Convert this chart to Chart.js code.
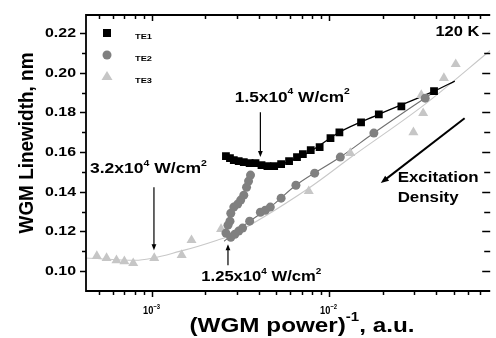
<!DOCTYPE html>
<html>
<head>
<meta charset="utf-8">
<script src="https://cdn.jsdelivr.net/npm/chart.js@4.4.0/dist/chart.umd.min.js"></script>
<style>
  html, body { margin: 0; padding: 0; background: #fff; }
  #kutu { width: 496px; height: 338px; }
</style>
</head>
<body>
<div id="kutu"><canvas id="grafik" width="496" height="338"></canvas></div>
<script>
// TE1 - kareler
const te1X = [2.61e-3, 2.75e-3, 2.89e-3, 3.08e-3, 3.29e-3, 3.55e-3, 3.83e-3, 4.14e-3, 4.47e-3, 4.88e-3, 5.34e-3,
  5.92e-3, 6.56e-3, 7.08e-3, 7.84e-3, 8.8e-3, 1.013e-2, 1.137e-2, 1.506e-2, 1.896e-2, 2.54e-2, 3.88e-2];
const te1Y = [0.158, 0.157, 0.156, 0.1554, 0.155, 0.1544, 0.1544, 0.1534, 0.1529, 0.1529, 0.1539,
  0.1554, 0.1575, 0.159, 0.161, 0.1625, 0.167, 0.170, 0.175, 0.179, 0.183, 0.1907];

// TE2 - daireler (dik kol + ana kol)
const te2X = [2.61e-3, 2.68e-3, 2.75e-3, 2.78e-3, 2.89e-3, 3.04e-3, 3.16e-3, 3.29e-3, 3.41e-3, 3.50e-3, 3.59e-3,
  2.78e-3, 2.93e-3, 3.08e-3, 3.24e-3, 3.55e-3, 4.08e-3, 4.35e-3, 4.64e-3, 5.34e-3, 6.47e-3, 8.25e-3,
  1.151e-2, 1.778e-2, 3.46e-2];
const te2Y = [0.1192, 0.1232, 0.1252, 0.1292, 0.1323, 0.1338, 0.1358, 0.1383, 0.1423, 0.1454, 0.1484,
  0.1171, 0.1186, 0.1202, 0.1217, 0.1252, 0.1297, 0.1307, 0.1323, 0.1368, 0.1433, 0.1494,
  0.1575, 0.1696, 0.1872];

// TE3 - üçgenler
const te3X = [4.89e-4, 5.55e-4, 6.31e-4, 6.99e-4, 7.84e-4, 1.03e-3, 1.47e-3, 1.67e-3, 2.45e-3, 7.64e-3,
  1.309e-2, 2.97e-2, 3.37e-2, 3.29e-2, 4.41e-2, 5.14e-2];
const te3Y = [0.1076, 0.1066, 0.1055, 0.105, 0.104, 0.1066, 0.1081, 0.1156, 0.1212, 0.1403,
  0.1595, 0.170, 0.1796, 0.1887, 0.1973, 0.2043];

// Uydurma eğriler (resimden okunan noktalar)
const te1FitX = [2.61e-3, 3.29e-3, 4.14e-3, 4.88e-3, 5.92e-3, 7.84e-3, 1.137e-2, 1.896e-2, 3.88e-2, 5.08e-2];
const te1FitY = [0.1575, 0.155, 0.1534, 0.1529, 0.1554, 0.1605, 0.170, 0.179, 0.1907, 0.1958];
const te2FitX = [2.55e-3, 3.55e-3, 4.64e-3, 6.47e-3, 1.151e-2, 1.778e-2, 3.93e-2];
const te2FitY = [0.1151, 0.1252, 0.1323, 0.1433, 0.1575, 0.1696, 0.1907];
const te3FitX = [4.25e-4, 8.04e-4, 1.52e-3, 2.33e-3, 2.78e-3, 7.64e-3, 1.326e-2, 3.46e-2, 8.04e-2];
const te3FitY = [0.1066, 0.1055, 0.1106, 0.1156, 0.1181, 0.1418, 0.1575, 0.1842, 0.2112];

const seriAdlari = ["TE1", "TE2", "TE3"];
const yEtiketAdimi = 0.02;

function noktalar(xs, ys) {
  return xs.map((x, i) => ({ x: x, y: ys[i] }));
}

const FONT = '"Liberation Sans", Arial, sans-serif';

// parcalar: [metin, ustSimge]
function yaziCiz(ctx, parcalar, x, y, boyut, genislik, hiza) {
  ctx.save();
  const ustBoyut = Math.round(boyut * 0.6);
  let toplam = 0;
  const olculer = parcalar.map(([m, ust]) => {
    ctx.font = `bold ${ust ? ustBoyut : boyut}px ${FONT}`;
    const w = ctx.measureText(m).width;
    toplam += w;
    return w;
  });
  const sx = genislik ? genislik / toplam : 1;
  let basX = hiza === "center" ? -toplam / 2 : hiza === "right" ? -toplam : 0;
  ctx.translate(x, y);
  ctx.scale(sx, 1);
  ctx.textBaseline = "middle";
  ctx.textAlign = "left";
  ctx.fillStyle = "#000";
  parcalar.forEach(([m, ust], i) => {
    ctx.font = `bold ${ust ? ustBoyut : boyut}px ${FONT}`;
    ctx.fillText(m, basX, ust ? -boyut * 0.4 : 0);
    basX += olculer[i];
  });
  ctx.restore();
}

function okCiz(ctx, x1, y1, x2, y2, kalinlik, uc) {
  const a = Math.atan2(y2 - y1, x2 - x1);
  const c = Math.cos(a), s = Math.sin(a);
  ctx.save();
  ctx.strokeStyle = "#000";
  ctx.fillStyle = "#000";
  ctx.lineWidth = kalinlik;
  ctx.beginPath();
  ctx.moveTo(x1, y1);
  ctx.lineTo(x2 - c * uc * 0.8, y2 - s * uc * 0.8);
  ctx.stroke();
  ctx.beginPath();
  ctx.moveTo(x2, y2);
  ctx.lineTo(x2 - uc * c + uc * 0.4 * s, y2 - uc * s - uc * 0.4 * c);
  ctx.lineTo(x2 - uc * c - uc * 0.4 * s, y2 - uc * s + uc * 0.4 * c);
  ctx.closePath();
  ctx.fill();
  ctx.restore();
}

function cizgi(ctx, x1, y1, x2, y2) {
  ctx.beginPath();
  ctx.moveTo(x1, y1);
  ctx.lineTo(x2, y2);
  ctx.stroke();
}

const cerceve = {
  id: "cerceve",
  afterDraw(chart) {
    const ctx = chart.ctx;
    const { left, right, top, bottom } = chart.chartArea;
    const xs = chart.scales.x, ys = chart.scales.y;

    ctx.save();
    ctx.strokeStyle = "#000";
    ctx.fillStyle = "#000";

    // Çerçeve
    ctx.lineWidth = 1.8;
    ctx.beginPath();
    ctx.moveTo(right, top);
    ctx.lineTo(left, top);
    ctx.lineTo(left, bottom);
    ctx.lineTo(right, bottom);
    ctx.stroke();

    // X çentikleri
    const xEtiketler = [];
    xs.ticks.forEach((t) => {
      const v = t.value;
      const us = Math.floor(Math.log10(v) + 1e-9);
      const an = v / Math.pow(10, us);
      if (Math.abs(an - Math.round(an)) > 1e-6) return;
      const px = Math.round(xs.getPixelForValue(v)) + 0.5;
      if (px <= left + 1 || px >= right) return;
      const buyuk = Math.round(an) === 1;
      const l = buyuk ? 6 : 4;
      ctx.strokeStyle = "#000";
      ctx.lineWidth = 1.5;
      cizgi(ctx, px, bottom, px, bottom + l);
      cizgi(ctx, px, top, px, top + l);
      if (buyuk) xEtiketler.push([px, us]);
    });

    // Y çentikleri
    const yEtiketler = [];
    ys.ticks.forEach((t) => {
      const v = t.value;
      const k = v / 0.01;
      if (Math.abs(k - Math.round(k)) > 1e-6) return;
      const py = Math.round(ys.getPixelForValue(v)) + 0.5;
      if (py <= top + 1 || py >= bottom - 1) return;
      const e = v / yEtiketAdimi;
      const buyuk = Math.abs(e - Math.round(e)) < 1e-6;
      const l = buyuk ? 6 : 4;
      ctx.strokeStyle = "#000";
      ctx.lineWidth = 1.5;
      cizgi(ctx, left, py, left - l, py);
      cizgi(ctx, right, py, right - l - 2, py);
      if (buyuk) yEtiketler.push([py, v]);
    });

    xEtiketler.forEach(([px, us]) => {
      yaziCiz(ctx, [["10", false], [String(us).replace("-", "\u2212"), true]], px - 1, bottom + 20, 11, 17, "center");
    });
    yEtiketler.forEach(([py, v]) => {
      yaziCiz(ctx, [[v.toFixed(2), false]], left - 10, py, 12, 31, "right");
    });

    // Eksen başlıkları
    ctx.save();
    ctx.translate(27, 143);
    ctx.rotate(-Math.PI / 2);
    yaziCiz(ctx, [["WGM Linewidth, nm", false]], 0, 0, 20, 181, "center");
    ctx.restore();
    yaziCiz(ctx, [["(WGM power)", false], ["-1", true], [", a.u.", false]], 302, 326, 21, 225, "center");

    // Gösterge
    const lx = left + 21;
    ctx.fillStyle = "#000";
    ctx.fillRect(lx - 4, top + 14, 8, 8);
    ctx.fillStyle = "#808080";
    ctx.beginPath();
    ctx.arc(lx, top + 40, 4.5, 0, Math.PI * 2);
    ctx.fill();
    ctx.fillStyle = "#c6c6c6";
    ctx.beginPath();
    ctx.moveTo(lx, top + 56);
    ctx.lineTo(lx + 5.5, top + 65);
    ctx.lineTo(lx - 5.5, top + 65);
    ctx.closePath();
    ctx.fill();
    seriAdlari.forEach((ad, i) => {
      yaziCiz(ctx, [[ad, false]], left + 49, top + 22 + i * 22, 8, 17, "left");
    });

    // Açıklamalar
    const X = (v) => xs.getPixelForValue(v);
    const Y = (v) => ys.getPixelForValue(v);
    yaziCiz(ctx, [["1.5x10", false], ["4", true], [" W/cm", false], ["2", true]], X(2.93e-3), Y(0.1875), 15, 115, "left");
    okCiz(ctx, X(4.08e-3), Y(0.1801), X(4.08e-3), Y(0.1575), 1.2, 6);
    yaziCiz(ctx, [["3.2x10", false], ["4", true], [" W/cm", false], ["2", true]], X(4.47e-4), Y(0.1514), 15, 117, "left");
    okCiz(ctx, X(1.026e-3), Y(0.1423), X(1.026e-3), Y(0.1106), 1.2, 6);
    yaziCiz(ctx, [["1.25x10", false], ["4", true], [" W/cm", false], ["2", true]], X(1.896e-3), Y(0.097), 15, 120, "left");
    okCiz(ctx, X(2.68e-3), Y(0.103), X(2.68e-3), Y(0.1136), 1.2, 6);
    okCiz(ctx, X(5.77e-2), Y(0.1771), X(1.945e-2), Y(0.1444), 2, 8);
    yaziCiz(ctx, [["Excitation", false]], X(2.42e-2), Y(0.1469), 15, 81, "left");
    yaziCiz(ctx, [["Density", false]], X(2.42e-2), Y(0.1368), 15, 61, "left");
    yaziCiz(ctx, [["120 K", false]], X(6.99e-2), Y(0.2205), 15, 44, "right");
    ctx.restore();
  },
};

const ctx = document.getElementById("grafik").getContext("2d");

new Chart(ctx, {
  type: "scatter",
  data: {
    datasets: [
      {
        label: "TE1",
        data: noktalar(te1X, te1Y),
        pointStyle: "rect",
        pointRadius: 5.5,
        backgroundColor: "#000",
        borderColor: "#000",
        borderWidth: 0,
      },
      {
        label: "TE2",
        data: noktalar(te2X, te2Y),
        pointStyle: "circle",
        pointRadius: 4.5,
        backgroundColor: "#808080",
        borderColor: "#808080",
        borderWidth: 0,
      },
      {
        label: "TE3",
        data: noktalar(te3X, te3Y),
        pointStyle: "triangle",
        pointRadius: 5.8,
        backgroundColor: "#c6c6c6",
        borderColor: "#c6c6c6",
        borderWidth: 0,
      },
      {
        label: "TE1 fit",
        data: noktalar(te1FitX, te1FitY),
        showLine: true,
        pointRadius: 0,
        borderColor: "#000",
        borderWidth: 1.3,
        cubicInterpolationMode: "monotone",
      },
      {
        label: "TE2 fit",
        data: noktalar(te2FitX, te2FitY),
        showLine: true,
        pointRadius: 0,
        borderColor: "#707070",
        borderWidth: 1.1,
        cubicInterpolationMode: "monotone",
      },
      {
        label: "TE3 fit",
        data: noktalar(te3FitX, te3FitY),
        showLine: true,
        pointRadius: 0,
        borderColor: "#c8c8c8",
        borderWidth: 1.1,
        cubicInterpolationMode: "monotone",
      },
    ],
  },
  options: {
    responsive: false,
    animation: false,
    devicePixelRatio: 1,
    layout: { padding: { top: 15, right: 0, left: 0, bottom: 0 } },
    plugins: {
      legend: { display: false },
      tooltip: { enabled: false },
    },
    scales: {
      x: {
        type: "logarithmic",
        min: 4.25e-4,
        max: 0.0804,
        grid: { display: false },
        border: { display: false },
        ticks: { display: false, autoSkip: false },
        afterFit: (s) => { s.height = 47; },
      },
      y: {
        type: "linear",
        min: 0.09,
        max: 0.2291,
        grid: { display: false },
        border: { display: false },
        ticks: { display: false, stepSize: 0.01 },
        afterFit: (s) => { s.width = 86; },
      },
    },
  },
  plugins: [cerceve],
});
</script>
</body>
</html>
